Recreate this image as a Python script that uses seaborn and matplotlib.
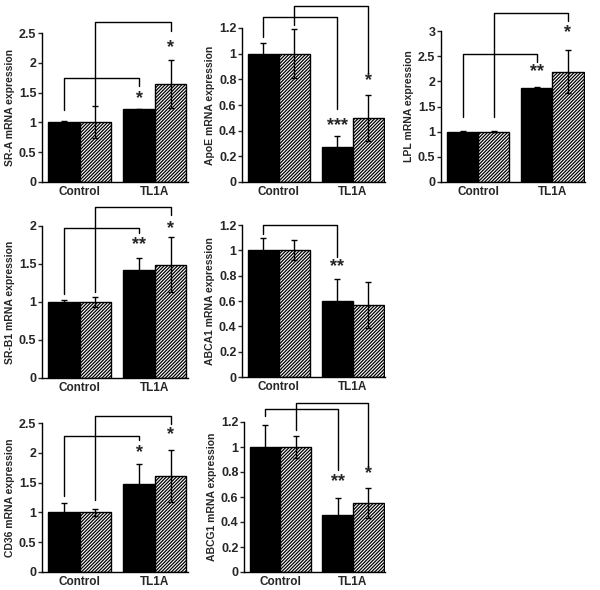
import numpy as np
import pandas as pd
import matplotlib
matplotlib.use('Agg')
import matplotlib.pyplot as plt
from matplotlib.ticker import FuncFormatter, MultipleLocator
import seaborn as sns

groups = ['Control', 'TL1A']
series = ['solid', 'hatched']
genes = ['SR-A', 'ApoE', 'LPL', 'SR-B1', 'ABCA1', 'CD36', 'ABCG1']

# means per gene
ctrl_solid = [1.0, 1.0, 1.0, 1.0, 1.0, 1.0, 1.0]
ctrl_hatch = [1.0, 1.0, 1.0, 1.0, 1.0, 1.0, 1.0]
tl1a_solid = [1.22, 0.27, 1.87, 1.42, 0.60, 1.48, 0.46]
tl1a_hatch = [1.65, 0.50, 2.19, 1.49, 0.57, 1.61, 0.55]

# error bars
ctrl_solid_err = [0.02, 0.08, 0.02, 0.03, 0.10, 0.15, 0.18]
ctrl_hatch_err = [0.27, 0.19, 0.01, 0.07, 0.08, 0.06, 0.09]
tl1a_solid_err = [0.01, 0.085, 0.02, 0.16, 0.17, 0.34, 0.13]
tl1a_hatch_err = [0.40, 0.18, 0.43, 0.36, 0.18, 0.44, 0.12]

y_max = [2.5, 1.2, 3, 2, 1.2, 2.5, 1.2]
y_step = [0.5, 0.2, 0.5, 0.5, 0.2, 0.5, 0.2]

# brackets: (bar from, bar to, left leg bottom, top, right leg bottom)
# bars: 0 control solid, 1 control hatched, 2 TL1A solid, 3 TL1A hatched
brackets = [
    [(0, 2, 1.20, 1.74, 1.615), (1, 3, 1.30, 2.68, 2.54)],
    [(0, 2, 1.13, 1.285, 0.57), (1, 3, 1.225, 1.375, 0.85)],
    [(0, 2, 1.30, 2.54, 2.39), (1, 3, 1.30, 3.36, 3.20)],
    [(0, 2, 1.11, 1.98, 1.91), (1, 3, 1.13, 2.25, 2.14)],
    [(0, 2, 1.13, 1.20, 0.95)],
    [(0, 2, 1.27, 2.29, 2.22), (1, 3, 1.21, 2.61, 2.48)],
    [(0, 2, 1.245, 1.307, 0.817), (1, 3, 1.14, 1.35, 0.84)],
]
stars = [
    [(2, 1.40, '*'), (3, 2.25, '*')],
    [(2, 0.44, '***'), (3, 0.79, '*')],
    [(2, 2.19, '**'), (3, 2.96, '*')],
    [(2, 1.75, '**'), (3, 1.96, '*')],
    [(2, 0.87, '**')],
    [(2, 2.00, '*'), (3, 2.30, '*')],
    [(2, 0.72, '**'), (3, 0.79, '*')],
]

sns.set_style('white')
plt.rcParams['font.family'] = ['Liberation Sans', 'DejaVu Sans']
plt.rcParams['font.weight'] = 'bold'
plt.rcParams['hatch.linewidth'] = 0.9

W, H = 600, 590
fig = plt.figure(figsize=(W / 100, H / 100), dpi=100)

# axes boxes in pixels: left, top, right, bottom
boxes = [
    (42, 33, 188, 182), (242, 28, 385, 182), (441, 31, 585, 182),
    (42, 226, 188, 378), (242, 225, 385, 377),
    (42, 423, 188, 572), (244, 422, 385, 572),
]

fmt = FuncFormatter(lambda v, p: '%g' % round(v, 2))

for i, gene in enumerate(genes):
    l, t, r, b = boxes[i]
    ax = fig.add_axes([l / W, 1 - b / H, (r - l) / W, (b - t) / H])
    df = pd.DataFrame({
        'group': ['Control', 'Control', 'TL1A', 'TL1A'],
        'series': ['solid', 'hatched', 'solid', 'hatched'],
        'value': [ctrl_solid[i], ctrl_hatch[i], tl1a_solid[i], tl1a_hatch[i]],
    })
    errs = [ctrl_solid_err[i], ctrl_hatch_err[i], tl1a_solid_err[i], tl1a_hatch_err[i]]
    sns.barplot(data=df, x='group', y='value', hue='series', order=groups,
                hue_order=series, palette=['black', 'white'], width=0.84,
                errorbar=None, legend=False, ax=ax)
    bars = sorted([p for p in ax.patches], key=lambda p: p.get_x())
    xs = []
    for k, p in enumerate(bars):
        p.set_edgecolor('black')
        p.set_linewidth(1)
        if k % 2 == 1:
            p.set_facecolor('white')
            p.set_hatch('//////////')
        xs.append(p.get_x() + p.get_width() / 2)
    ax.errorbar(xs, df['value'], yerr=errs, fmt='none', ecolor='black',
                elinewidth=1, capsize=2, capthick=1, zorder=5)

    for a, c, y0, ytop, y1 in brackets[i]:
        ax.plot([xs[a], xs[a], xs[c], xs[c]], [y0, ytop, ytop, y1],
                color='black', lw=1, clip_on=False, zorder=6)
    for k, y, s in stars[i]:
        ax.text(xs[k], y, s, ha='center', va='center', fontsize=13,
                fontweight='bold', clip_on=False)

    ax.set_xlim(-0.5, 1.44)
    ax.set_ylim(0, y_max[i])
    ax.yaxis.set_major_locator(MultipleLocator(y_step[i]))
    ax.yaxis.set_major_formatter(fmt)
    ax.set_xlabel('')
    ax.set_ylabel(f'{gene} mRNA expression', fontsize=7.5, fontweight='bold', labelpad=3)
    for sp in ['top', 'right']:
        ax.spines[sp].set_visible(False)
    for sp in ['left', 'bottom']:
        ax.spines[sp].set_color('black')
        ax.spines[sp].set_linewidth(1)
    ax.tick_params(axis='y', direction='out', length=3, width=1, labelsize=9, pad=1, left=True)
    ax.tick_params(axis='x', length=0, labelsize=8.5, pad=3)
    for lab in ax.get_xticklabels() + ax.get_yticklabels():
        lab.set_fontweight('bold')

fig.savefig('out.png', dpi=100)
